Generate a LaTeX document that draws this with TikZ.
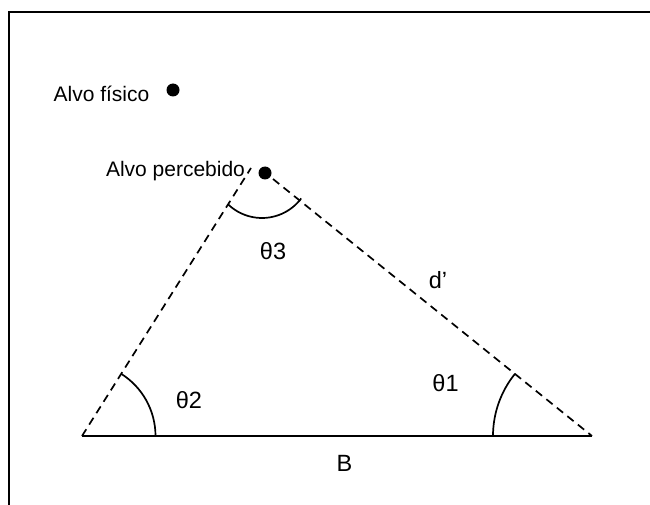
\documentclass[tikz,border=0pt]{standalone}
\usepackage{fontspec}
\setmainfont{Liberation Sans}
\usetikzlibrary{calc}
\begin{document}
\begin{tikzpicture}[x=1pt,y=-1pt,
  lbl/.style={inner sep=0pt,anchor=base,font=\fontsize{21}{25}\selectfont},
  biglbl/.style={inner sep=0pt,anchor=base,font=\fontsize{23.5}{28}\selectfont},
  dotmark/.style={circle,fill=black,inner sep=0pt,minimum size=13pt},
  dashline/.style={line width=1.7pt,dash pattern=on 8pt off 5.5pt},
  baseseg/.style={line width=2.2pt},
  anglearc/.style={line width=1.7pt},
  frameline/.style={line width=2pt}]
\useasboundingbox (0,0) rectangle (650,505);
% frame
\coordinate (fb) at (8.5,506);
\coordinate (ftl) at (8.5,12.5);
\coordinate (ftr) at (651,12.5);
\draw[frameline] (fb) -- (ftl) -- (ftr);
% targets
\node[dotmark] (dotF) at (173,90) {};
\node[lbl] (lblF) at (101.5,101.7) {Alvo físico};
\node[dotmark] (dotP) at (265,173) {};
\node[lbl] (lblP) at (175.5,176.7) {Alvo percebido};
% triangle
\coordinate (L) at (82,436);
\coordinate (R) at (592,436);
\coordinate (Ltop) at (251,168);
\coordinate (Rtop) at (273,179);
\draw[baseseg] (L) -- (R);
\draw[dashline] (L) -- (Ltop);
\draw[dashline] (Rtop) -- (R);
% angle arcs
\coordinate (a2s) at (155.5,436);
\coordinate (a1s) at (493,436);
\coordinate (a3c) at (262,169);
\coordinate (a3s) at ($(a3c)+(36.9:49)$);
\draw[anglearc] (a2s) arc[start angle=0,end angle=-58,radius=73.5];
\draw[anglearc] (a1s) arc[start angle=180,end angle=219,radius=99];
\draw[anglearc] (a3s) arc[start angle=36.9,end angle=133.4,radius=49];
% labels
\node[biglbl] (t3) at (273,259) {θ3};
\node[biglbl] (dp) at (438,288) {d’};
\node[biglbl] (t1) at (445.5,391.7) {θ1};
\node[biglbl] (t2) at (189,408.3) {θ2};
\node[biglbl] (bl) at (344.5,471) {B};
\end{tikzpicture}
\end{document}
